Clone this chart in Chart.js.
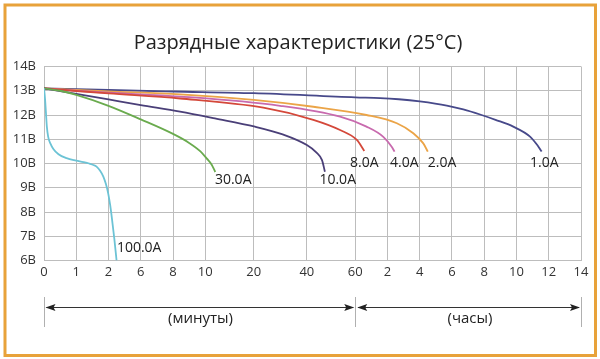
<!DOCTYPE html>
<html>
<head>
<meta charset="utf-8">
<script src="https://cdn.jsdelivr.net/npm/chart.js@4/dist/chart.umd.min.js"></script>
<style>html,body{margin:0;padding:0;background:#fff}canvas{display:block}</style>
</head>
<body>
<canvas id="c" width="600" height="359"></canvas>
<script>
// ---- data ----
const titleText = "Разрядные характеристики (25°C)";
const xTickLabels = ["0","1","2","6","8","10","20","40","60","2","4","6","8","10","12","14"];
const xTickPositions = [0,1,2,3,4,5,6.5,8.15,9.65,10.65,11.65,12.65,13.65,14.65,15.65,16.65];
const yTicks = [6,7,8,9,10,11,12,13,14];
const seriesNames = ["100.0A","30.0A","10.0A","8.0A","4.0A","2.0A","1.0A"];

const x100 = [0,0.03,0.06,0.09,0.13,0.2,0.29,0.45,0.7,1.0,1.22,1.4,1.55,1.63,1.74,1.84,1.92,1.99,2.05,2.1,2.18,2.25];
const y100 = [13.1,12.7,12.1,11.5,11.1,10.82,10.6,10.38,10.22,10.12,10.06,10.0,9.93,9.87,9.7,9.46,9.15,8.77,8.3,7.8,6.9,6.0];
const x30 = [0,0.5,1,2,3,4,4.5,4.85,5.05,5.2,5.31];
const y30 = [13.1,13.0,12.83,12.38,11.82,11.22,10.85,10.5,10.2,9.95,9.65];
const x10 = [0,1,2,3,4.22,5.3,6.54,7.4,8.15,8.45,8.62,8.71];
const y10 = [13.1,12.87,12.64,12.41,12.14,11.86,11.52,11.2,10.76,10.45,10.14,9.66];
const x8 = [0,1,2,4.22,6.8,8.35,9.18,9.7,9.93];
const y8 = [13.1,12.99,12.89,12.68,12.3,11.8,11.38,10.97,10.52];
const x4 = [0,1,2,4.22,7.32,9.18,10.0,10.52,10.78,10.87];
const y4 = [13.1,13.0,12.92,12.76,12.38,11.93,11.52,11.1,10.69,10.49];
const x2 = [0,1,2,4.22,6.5,8.35,10.0,10.94,11.45,11.76,11.9];
const y2 = [13.1,13.03,12.97,12.85,12.62,12.34,12.0,11.66,11.25,10.83,10.49];
const x1 = [0,2,4,6.5,9.65,10.42,11.0,11.65,12.49,13.0,13.52,14.0,14.55,15.07,15.3,15.43];
const y1 = [13.1,13.03,12.97,12.9,12.73,12.7,12.65,12.56,12.39,12.23,12.02,11.8,11.52,11.11,10.75,10.49];

// curve label anchors (left edge x, middle y, in axis units)
const labelX = [2.26,5.3,8.54,9.49,10.73,11.9,15.07];
const labelY = [6.53,9.32,9.32,10.03,10.03,10.03,10.03];

const unitMinutes = "(минуты)";
const unitHours = "(часы)";

// ---- styles ----
const colors = ["#6cc3d5","#6aab4e","#4a3f78","#d4483a","#c86aae","#eba447","#47498a"];
const FONT = "'Open Sans', 'Noto Sans', sans-serif";

const xyPairs = [[x100,y100],[x30,y30],[x10,y10],[x8,y8],[x4,y4],[x2,y2],[x1,y1]];
const datasets = xyPairs.map((p,i)=>({
  label: seriesNames[i],
  data: p[0].map((x,j)=>({x:x,y:p[1][j]})),
  borderColor: colors[i],
  borderWidth: 1.8,
  pointRadius: 0,
  fill: false,
  showLine: true,
  cubicInterpolationMode: 'monotone'
}));

const decor = {
  id: 'decor',
  beforeDraw(chart){
    const ctx = chart.ctx;
    ctx.save();
    ctx.fillStyle = '#fff';
    ctx.fillRect(0,0,chart.width,chart.height);
    ctx.restore();
  },
  afterDraw(chart){
    const ctx = chart.ctx;
    const xs = chart.scales.x, ys = chart.scales.y;
    ctx.save();
    // frame
    ctx.strokeStyle = '#e8a23a';
    ctx.lineWidth = 3;
    ctx.strokeRect(5,5,590.5,350.5);
    // title
    ctx.fillStyle = '#222';
    ctx.font = "20px " + FONT;
    ctx.textAlign = 'center';
    ctx.textBaseline = 'middle';
    ctx.fillText(titleText, 298, 43);
    // curve labels
    ctx.font = "14px " + FONT;
    ctx.textAlign = 'left';
    ctx.fillStyle = '#222';
    seriesNames.forEach((n,i)=>{
      ctx.fillText(n, xs.getPixelForValue(labelX[i]), ys.getPixelForValue(labelY[i]));
    });
    // unit arrows
    const xa = xs.getPixelForValue(xTickPositions[0]);
    const xm = xs.getPixelForValue(xTickPositions[8]);
    const xb = xs.getPixelForValue(xTickPositions[xTickPositions.length-1]);
    const ay = 307.5;
    ctx.strokeStyle = '#b0b0b0';
    ctx.lineWidth = 1;
    [xa,xm,xb].forEach(x=>{
      const px = Math.round(x)+0.5;
      ctx.beginPath(); ctx.moveTo(px,297); ctx.lineTo(px,327); ctx.stroke();
    });
    ctx.strokeStyle = '#333';
    ctx.fillStyle = '#222';
    function arrow(x0,x1){
      ctx.beginPath(); ctx.moveTo(x0+2,ay); ctx.lineTo(x1-2,ay); ctx.stroke();
      ctx.beginPath(); ctx.moveTo(x0+1,ay); ctx.lineTo(x0+11,ay-3.5); ctx.lineTo(x0+9,ay); ctx.lineTo(x0+11,ay+3.5); ctx.closePath(); ctx.fill();
      ctx.beginPath(); ctx.moveTo(x1-1,ay); ctx.lineTo(x1-11,ay-3.5); ctx.lineTo(x1-9,ay); ctx.lineTo(x1-11,ay+3.5); ctx.closePath(); ctx.fill();
    }
    arrow(xa+0.5,xm);
    arrow(xm+1,xb);
    ctx.font = "15px " + FONT;
    ctx.textAlign = 'center';
    ctx.fillStyle = '#222';
    ctx.fillText(unitMinutes, 200.5, 319);
    ctx.fillText(unitHours, 470, 319);
    ctx.restore();
  }
};

new Chart(document.getElementById('c'), {
  type: 'scatter',
  data: { datasets },
  options: {
    responsive: false,
    animation: false,
    devicePixelRatio: 1,
    layout: { padding: { left: 0, right: 19, top: 66.5, bottom: 78.5 } },
    plugins: { legend: { display: false }, title: { display: false }, tooltip: { enabled: false } },
    scales: {
      x: {
        type: 'linear',
        min: 0,
        max: xTickPositions[xTickPositions.length-1],
        afterBuildTicks(scale){ scale.ticks = xTickPositions.map(v=>({value:v})); },
        afterFit(scale){ scale.height = 20; },
        grid: { color: '#bdbdbd', lineWidth: 1, drawTicks: false },
        border: { display: true, color: '#bdbdbd' },
        ticks: {
          autoSkip: false, maxRotation: 0, padding: 4,
          color: '#333', font: { family: FONT, size: 13 },
          callback: (v, i) => xTickLabels[i]
        }
      },
      y: {
        type: 'linear',
        min: yTicks[0],
        max: yTicks[yTicks.length-1],
        afterBuildTicks(scale){ scale.ticks = yTicks.map(v=>({value:v})); },
        afterFit(scale){ scale.width = 44; },
        grid: { color: '#bdbdbd', lineWidth: 1, drawTicks: false },
        border: { display: true, color: '#bdbdbd' },
        ticks: {
          padding: 8, color: '#333', font: { family: FONT, size: 13 },
          callback: (v) => v + 'В'
        }
      }
    }
  },
  plugins: [decor]
});
</script>
</body>
</html>
